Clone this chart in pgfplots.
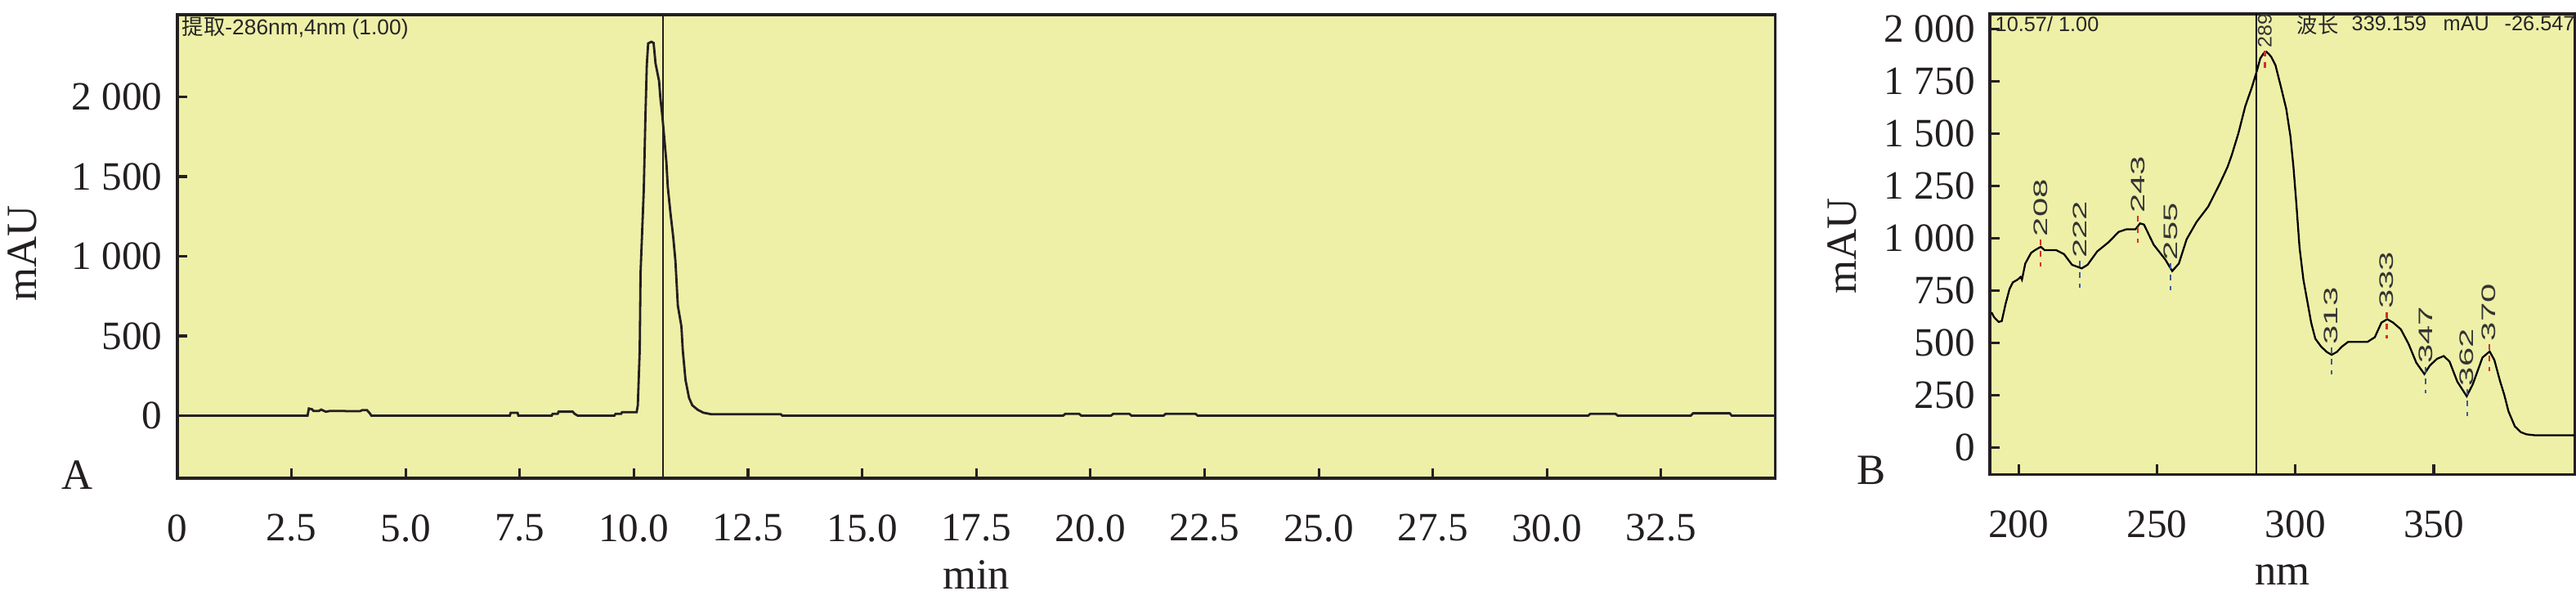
\documentclass[border=0pt]{standalone}
\usepackage{fontspec}
\setmainfont{Liberation Serif}
\newfontfamily\instr{Liberation Sans}
\newfontfamily\cjk{Noto Sans CJK SC}
\usepackage{pgfplots}
\pgfplotsset{compat=1.18}
\definecolor{bgy}{RGB}{238,240,168}
\definecolor{frm}{RGB}{35,31,32}
\definecolor{pkred}{RGB}{215,45,40}
\definecolor{pkblue}{RGB}{60,90,160}
\pgfplotsset{
 chrom/.style={
  scale only axis,
  axis background/.style={fill=bgy},
  axis line style={line width=0.9pt, frm},
  tick align=inside, tick pos=left,
  major tick length=0.12cm,
  major tick style={line width=0.9pt, frm},
  ticklabel style={font=\fontsize{14}{16}\selectfont, text=frm},
  /pgf/number format/assume math mode=true,
  /pgf/number format/1000 sep={\ },
  scaled ticks=false,
  xticklabel style={yshift=-0.32cm},
  yticklabel style={xshift=-0.06cm},
 },
 pklab/.style={only marks, mark=none, point meta=explicit symbolic,
  every node near coord/.append style={rotate=90, anchor=west, inner sep=0.5pt,
  font=\instr\fontsize{6.8}{7}\selectfont, text=black!80}},
}
\begin{document}
\begin{tikzpicture}
\useasboundingbox (0,0) rectangle (31.51,7.34);
% ---------------- Panel A ----------------
\begin{axis}[chrom, at={(2.17cm,1.49cm)}, anchor=south west,
  width=19.545cm, height=5.67cm,
  xmin=0, xmax=35, ymin=-392, ymax=2515,
  xtick={0,2.5,5,7.5,10,12.5,15,17.5,20,22.5,25,27.5,30,32.5},
  xticklabels={0,2.5,5.0,7.5,10.0,12.5,15.0,17.5,20.0,22.5,25.0,27.5,30.0,32.5},
  ytick={0,500,1000,1500,2000}]
\addplot[frm, line width=0.8pt] coordinates {
(0,0) (2.85,0) (2.88,45) (2.95,40) (2.98,30) (3.10,30) (3.15,38) (3.25,25) (3.35,30)
(3.65,30) (3.70,28) (4.00,28) (4.05,35) (4.15,35) (4.20,20) (4.25,0)
(7.28,0) (7.30,18) (7.45,18) (7.47,0) (8.20,0) (8.22,12) (8.33,12) (8.35,25) (8.66,25)
(8.70,12) (8.77,0) (9.57,0) (9.60,12) (9.72,12) (9.74,22) (10.06,22)
(10.085,65) (10.127,410) (10.145,896) (10.216,1418) (10.252,1880) (10.282,2200)
(10.312,2335) (10.383,2345) (10.431,2338) (10.473,2210) (10.55,2100) (10.58,1990)
(10.622,1880) (10.664,1745) (10.712,1586) (10.741,1437) (10.801,1269) (10.861,1120)
(10.909,970) (10.962,690) (11.04,560) (11.07,410) (11.13,224) (11.207,112)
(11.279,65) (11.398,37) (11.518,19) (11.697,9) (13.22,9) (13.25,0)
(19.40,0) (19.45,12) (19.75,12) (19.80,0) (20.45,0) (20.50,12) (20.85,12) (20.90,0)
(21.60,0) (21.65,12) (22.30,12) (22.35,0) (30.90,0) (30.95,12) (31.50,12) (31.55,0)
(33.15,0) (33.20,15) (34.00,15) (34.05,0) (35,0)
};
\addplot[frm, line width=0.6pt] coordinates {(10.63,-392) (10.63,2515)};
\end{axis}
\node[anchor=north west, inner sep=0pt, text=black!85, font=\instr\fontsize{7.5}{8}\selectfont] at (2.22,7.14) {{\cjk 提取}-286nm,4nm (1.00)};
% ---------------- Panel B ----------------
\begin{axis}[chrom, at={(24.34cm,1.535cm)}, anchor=south west,
  width=7.153cm, height=5.635cm,
  xmin=189.6, xmax=400.9, ymin=-130, ymax=2071,
  xtick={200,250,300,350}, ytick={0,250,...,2000}]
\addplot[black, line width=0.65pt] coordinates {
(190.2,645) (191.1,622) (192.8,599) (193.9,603) (195.3,686) (196.7,756) (197.9,788)
(199.6,801) (200.7,814) (201.2,801) (202.4,878) (204.5,929) (205.9,942) (208,958)
(209.4,942) (213.6,942) (216.4,923) (219.3,872) (222.8,855) (224.9,872) (228.4,936)
(232.6,981) (236.1,1029) (239,1042) (242.2,1042) (243.9,1070) (245.3,1064) (248.8,968)
(253,897) (255.5,842) (257.9,878) (260.7,994) (264.3,1077) (268.5,1150) (272.7,1260)
(275.5,1340) (277,1396) (279.4,1500) (281.9,1630) (284.3,1721) (286.1,1799) (287.3,1858)
(288.5,1882) (289.5,1890) (290.5,1878) (291.3,1865) (292.8,1826) (294.8,1721) (296.7,1617)
(298.2,1487) (299.3,1340) (300.3,1173) (301.5,955) (302.9,801) (304.3,699) (305.7,596)
(307.2,519) (309.3,481) (311.4,455) (313.1,442) (314.9,455) (317,483) (319.1,504)
(326.1,504) (328.7,526) (331.1,596) (333.2,612) (335.3,596) (338.1,564) (340.9,494)
(343.7,404) (346.6,350) (348.6,391) (351.2,423) (353.6,436) (355.7,410) (358.5,314)
(361.9,244) (364.1,301) (367.6,429) (370.2,458) (371.9,417) (374,314) (375.5,250)
(377,172) (379.3,100) (381.5,72) (383.5,62) (386.8,57) (400.8,57)
};
\addplot[black, line width=0.6pt] coordinates {(286,-130) (286,2071)};
\addplot[pkred, line width=0.6pt, dash pattern=on 2pt off 2pt, unbounded coords=jump] coordinates {
(208,993) (208,865) (208,nan) (243,1105) (243,977) (243,nan) (289,1895) (289,1797) (289,nan)
(333,647) (333,519) (333,nan) (370,493) (370,365)};
\addplot[pkblue, line width=0.6pt, dash pattern=on 2pt off 2pt, unbounded coords=jump] coordinates {
(222,890) (222,762) (222,nan) (255,880) (255,752) (255,nan) (313,477) (313,349) (313,nan)
(347,385) (347,257) (347,nan) (362,279) (362,151)};
\addplot[pklab, nodes near coords={\scalebox{1.75}[1]{\pgfplotspointmeta}}]
  table[meta=lab] {
x y lab
208 998 208
222 895 222
243 1110 243
255 885 255
313 482 313
333 652 333
347 390 347
362 284 362
370 498 370
};
\addplot[pklab, nodes near coords={\scalebox{1.05}[1]{\pgfplotspointmeta}}]
  table[meta=lab] {
x y lab
289 1898 289
};
\end{axis}
\begin{scope}[every node/.style={anchor=north west, inner sep=0pt, text=black!85, font=\instr\fontsize{7.2}{8}\selectfont}]
\node at (24.40,7.15) {10.57/ 1.00};
\node at (28.09,7.15) {\cjk 波长};
\node at (28.76,7.15) {339.159};
\node at (29.88,7.15) {mAU};
\node at (30.63,7.15) {-26.547};
\end{scope}
% ---------------- outer labels ----------------
\begin{scope}[every node/.style={font=\fontsize{15}{18}\selectfont, text=frm}]
\node at (11.94,0.31) {min};
\node at (27.92,0.31) {nm};
\node[rotate=90] at (0.27,4.24) {mAU};
\node[rotate=90] at (22.53,4.33) {mAU};
\node at (0.95,1.53) {A};
\node at (22.89,1.59) {B};
\end{scope}
\end{tikzpicture}
\end{document}
